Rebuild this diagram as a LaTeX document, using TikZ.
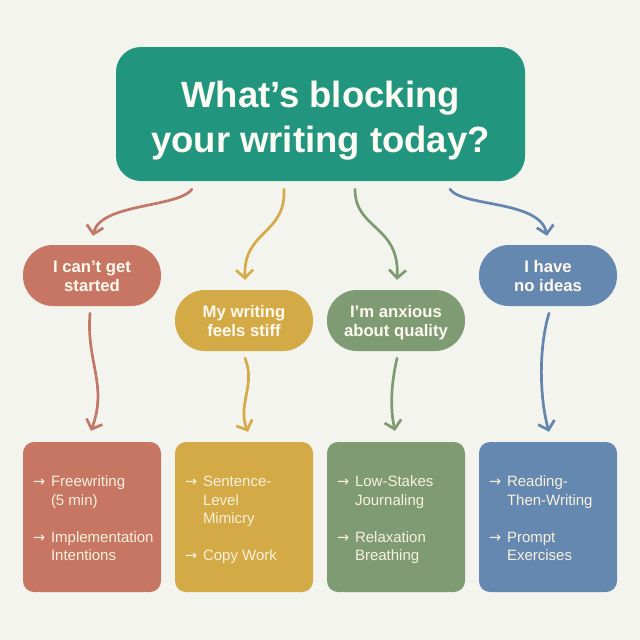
\documentclass[tikz,border=0pt]{standalone}
\usepackage{fontspec}
\setmainfont{Liberation Sans}
\newfontfamily\arrowfont{DejaVu Sans}
\usetikzlibrary{arrows.meta,calc}
\definecolor{bgc}{HTML}{F3F4EE}
\definecolor{tealc}{HTML}{22957F}
\definecolor{redc}{HTML}{C67662}
\definecolor{yelc}{HTML}{D3AA45}
\definecolor{grnc}{HTML}{7E9B73}
\definecolor{bluc}{HTML}{6588B0}
\definecolor{redl}{HTML}{C27867}
\definecolor{yell}{HTML}{D5AB48}
\definecolor{grnl}{HTML}{7D9A71}
\definecolor{blul}{HTML}{6485AE}
\definecolor{titletxt}{HTML}{FBFAF3}
\definecolor{pilltxt}{HTML}{FFF9F0}
\definecolor{cardtxt}{HTML}{F8F1DE}
\newcommand\myarr{\makebox[18pt][l]{\arrowfont\fontsize{14.5}{14.5}\selectfont →}}
\begin{document}
\begin{tikzpicture}[x=1pt,y=-1pt,
  titlebox/.style={rectangle, rounded corners=25pt, minimum width=409pt, minimum height=134pt, inner sep=0pt, fill=tealc},
  pill/.style={rectangle, rounded corners=30pt, minimum width=138pt, minimum height=61pt, inner sep=0pt},
  card/.style={rectangle, rounded corners=11pt, minimum width=138pt, minimum height=150pt, inner sep=0pt},
  titletext/.style={anchor=base, inner sep=0pt, text=titletxt, font=\bfseries\fontsize{36.5}{45}\selectfont},
  pilltext/.style={anchor=base, inner sep=0pt, text=pilltxt, font=\bfseries\fontsize{16.7}{19}\selectfont},
  listtext/.style={anchor=base west, inner sep=0pt, text=cardtxt, font=\fontsize{15}{18.5}\selectfont},
  flow/.style={line width=2.7pt, line cap=round, -{Straight Barb[length=8pt,width=17pt,line width=2.7pt]}}
]
\fill[bgc] (0,0) rectangle (640,640);

% title
\node[titlebox] (q) at (320.5,114) {};
\node[titletext] (qt) at (320.5,107) {\begin{tabular}[t]{@{}c@{}}What’s blocking\\ your writing today?\end{tabular}};

% pills
\node[pill, fill=redc] (p1) at (92,275.5) {};
\node[pill, fill=yelc] (p2) at (244,320.5) {};
\node[pill, fill=grnc] (p3) at (396,320.5) {};
\node[pill, fill=bluc] (p4) at (548,275.5) {};
\node[pilltext] (p1t) at (92,272) {\begin{tabular}[t]{@{}c@{}}I can’t get\\ started\end{tabular}};
\node[pilltext] (p2t) at (244,317) {\begin{tabular}[t]{@{}c@{}}My writing\\ feels stiff\end{tabular}};
\node[pilltext] (p3t) at (396,317) {\begin{tabular}[t]{@{}c@{}}I’m anxious\\ about quality\end{tabular}};
\node[pilltext] (p4t) at (548,272) {\begin{tabular}[t]{@{}c@{}}I have\\ no ideas\end{tabular}};

% cards
\node[card, fill=redc] (c1) at (92,517) {};
\node[card, fill=yelc] (c2) at (244,517) {};
\node[card, fill=grnc] (c3) at (396,517) {};
\node[card, fill=bluc] (c4) at (548,517) {};
\node[listtext] (c1t) at ($(c1.north west)+(10,45)$) {\begin{tabular}[t]{@{}l@{}l@{}}\myarr & Freewriting\\ & (5 min)\\[18.5pt] \myarr & Implementation\\ & Intentions\end{tabular}};
\node[listtext] (c2t) at ($(c2.north west)+(10,45)$) {\begin{tabular}[t]{@{}l@{}l@{}}\myarr & Sentence-\\ & Level\\ & Mimicry\\[18.5pt] \myarr & Copy Work\end{tabular}};
\node[listtext] (c3t) at ($(c3.north west)+(10,45)$) {\begin{tabular}[t]{@{}l@{}l@{}}\myarr & Low-Stakes\\ & Journaling\\[18.5pt] \myarr & Relaxation\\ & Breathing\end{tabular}};
\node[listtext] (c4t) at ($(c4.north west)+(10,45)$) {\begin{tabular}[t]{@{}l@{}l@{}}\myarr & Reading-\\ & Then-Writing\\[18.5pt] \myarr & Prompt\\ & Exercises\end{tabular}};

% top connectors
\draw[flow, redl] ($(q.south)+(-128.5,8)$) .. controls (178,208) and (100,203) .. ($(p1.north)+(1,-9)$);
\draw[flow, yell] ($(q.south)+(-36.5,8)$) .. controls (286,235) and (243,230) .. ($(p2.north)+(1,-10)$);
\draw[flow, grnl] ($(q.south)+(34.5,8)$) .. controls (355,230) and (400,225) .. ($(p3.north)+(1,-10)$);
\draw[flow, blul] ($(q.south)+(129.5,8)$) .. controls (462,207) and (540,200) .. ($(p4.north)+(-1,-9)$);

% bottom connectors
\draw[flow, redl] ($(p1.south)+(-2,7)$) .. controls (86,362) and (108,385) .. ($(c1.north)+(-1,-11)$);
\draw[flow, yell] ($(p2.south)+(1,7)$) .. controls (256,385) and (237,405) .. ($(c2.north)+(4,-10)$);
\draw[flow, grnl] ($(p3.south)+(1,7)$) .. controls (391,385) and (390,408) .. ($(c3.north)+(-1,-11)$);
\draw[flow, blul] ($(p4.south)+(1,7)$) .. controls (538,350) and (540,400) .. ($(c4.north)+(1,-10)$);
\end{tikzpicture}
\end{document}
